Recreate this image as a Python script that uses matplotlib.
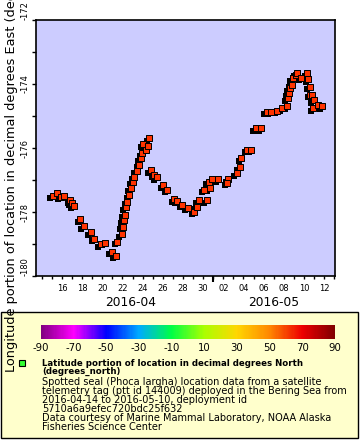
import numpy as np
import pandas as pd
import matplotlib
matplotlib.use("Agg")
import matplotlib.pyplot as plt
import matplotlib.dates as mdates
import matplotlib.transforms as mtransforms
from matplotlib.colors import LinearSegmentedColormap, Normalize
from matplotlib.cm import ScalarMappable
from matplotlib.patches import Rectangle

# day of April 2016 (fractional; 31 = May 1 00:00)
day_apr = [15.08, 15.48, 15.90, 16.17, 16.82, 16.96, 17.16, 17.81, 18.15, 18.87,
           19.20, 19.86, 20.26, 20.95, 21.35, 21.51, 21.91, 22.01, 22.11, 22.21,
           22.34, 22.50, 22.66, 22.83, 23.00, 23.16, 23.43, 23.65, 23.82, 23.99,
           24.09, 24.32, 24.49, 24.68, 24.81, 25.14, 25.38, 26.07, 26.47, 27.12,
           27.46, 27.95, 28.50, 29.10, 29.44, 29.59, 30.36, 30.09, 30.68, 30.58,
           30.92, 31.51, 32.50, 32.41, 33.33, 33.65, 33.79, 34.39, 34.78, 35.21,
           35.77, 36.30, 36.69, 37.36, 37.85, 38.35, 38.41, 38.50, 38.60, 38.77,
           38.90, 39.17, 39.27, 39.73, 40.33, 40.43, 40.58, 40.65, 40.82, 40.98,
           40.92, 41.42, 41.81]
lon = [-177.49, -177.42, -177.52, -177.49, -177.63, -177.71, -177.81, -178.23, -178.44, -178.63,
       -178.83, -179.00, -178.96, -179.24, -179.37, -178.93, -178.69, -178.46, -178.25, -178.09,
       -177.85, -177.68, -177.47, -177.26, -177.05, -176.90, -176.71, -176.53, -176.32, -176.17,
       -175.88, -176.06, -175.94, -175.70, -176.69, -176.84, -176.92, -177.16, -177.31, -177.60,
       -177.65, -177.78, -177.87, -177.99, -177.83, -177.63, -177.63, -177.31, -177.26, -177.05,
       -176.97, -176.98, -176.97, -177.08, -176.79, -176.60, -176.32, -176.06, -176.06, -175.38,
       -175.38, -174.87, -174.87, -174.83, -174.76, -174.69, -174.45, -174.29, -174.13, -174.03,
       -173.82, -173.72, -173.67, -173.80, -173.67, -173.85, -174.08, -174.34, -174.34, -174.50,
       -174.76, -174.66, -174.69]

cbar_ticks = [-90, -70, -50, -30, -10, 10, 30, 50, 70, 90]
cbar_colors = ["#800080", "#ff00ff", "#0000ff", "#00aaff", "#00ff44",
               "#aaff00", "#ffd700", "#ff8800", "#ee0000", "#800000"]

legend_title = ["Latitude portion of location in decimal degrees North",
                "(degrees_north)"]
legend_lines = ["Spotted seal (Phoca largha) location data from a satellite",
                "telemetry tag (ptt id 144009) deployed in the Bering Sea from",
                "2016-04-14 to 2016-05-10, deployment id",
                "5710a6a9efec720bdc25f632",
                "Data courtesy of Marine Mammal Laboratory, NOAA Alaska",
                "Fisheries Science Center"]

times = pd.Timestamp("2016-03-31") + pd.to_timedelta(day_apr, unit="D")

W, H = 360, 440
fig = plt.figure(figsize=(W / 100, H / 100), dpi=100)

def fx(px):
    return px / W

def fy(py):
    return 1 - py / H

ax = fig.add_axes([fx(36), fy(276), fx(299), 256 / H])
ax.set_facecolor("#ccccff")

shadow = mtransforms.offset_copy(ax.transData, fig=fig, x=-2.5, y=-2.5, units="dots")
ax.scatter(times, lon, marker="s", s=19, color="black", linewidths=0, transform=shadow, zorder=2)
ax.scatter(times, lon, marker="s", s=19, color="#ff3300", edgecolors="black",
           linewidths=0.7, zorder=3)

ax.set_ylim(-180, -172)
ax.set_xlim(pd.Timestamp("2016-03-31") + pd.Timedelta(days=13.43),
            pd.Timestamp("2016-03-31") + pd.Timedelta(days=43.08))

ax.set_yticks(np.arange(-180, -171, 2))
ax.set_yticks(np.arange(-179, -172, 2), minor=True)
ax.set_yticklabels([str(v) for v in range(-180, -171, 2)])
ax.tick_params(axis="y", which="both", length=2.9, width=1, labelsize=6, pad=1.5,
               labelrotation=90)
for lab in ax.get_yticklabels():
    lab.set_verticalalignment("center")
ylabs = ax.get_yticklabels()
ylabs[0].set_verticalalignment("bottom")
ylabs[-1].set_verticalalignment("bottom")

ax.xaxis.set_major_locator(mdates.DayLocator(bymonthday=range(2, 32, 2)))
ax.xaxis.set_minor_locator(mdates.DayLocator())
ax.xaxis.set_major_formatter(mdates.DateFormatter("%d"))
ax.tick_params(axis="x", which="both", length=2.2, width=1, labelsize=6, pad=3.9)
fig.canvas.draw()
for lab in ax.get_xticklabels():
    if lab.get_text() == "14":
        lab.set_visible(False)

# longer tick at month boundary
sec = ax.secondary_xaxis("bottom")
sec.set_xticks([pd.Timestamp("2016-05-01")])
sec.set_xticklabels([""])
sec.tick_params(length=4.3, width=1.5)
sec.spines["bottom"].set_visible(False)

for s in ax.spines.values():
    s.set_linewidth(1.2)

ax.set_ylabel("Longitude portion of location in decimal degrees East (degrees_east)",
              fontsize=9.3)
ax.yaxis.set_label_coords((18 - 36) / 299, 0.5)

fig.text(fx(130.5), fy(302), "2016-04", fontsize=8.8, ha="center", va="center")
fig.text(fx(274), fy(302), "2016-05", fontsize=8.8, ha="center", va="center")

# legend box
fig.patches.append(Rectangle((fx(1), fy(437.5)), fx(357), (437.5 - 311.5) / H,
                             transform=fig.transFigure, facecolor="#ffffcc",
                             edgecolor="black", linewidth=1, zorder=-1))

cmap = LinearSegmentedColormap.from_list(
    "rainbow_erddap", [((v + 90) / 180, c) for v, c in zip(cbar_ticks, cbar_colors)])
cax = fig.add_axes([fx(40.7), fy(339.3), fx(294.3), 14.3 / H])
cb = fig.colorbar(ScalarMappable(norm=Normalize(-90, 90), cmap=cmap), cax=cax,
                  orientation="horizontal", ticks=cbar_ticks)
cb.set_ticklabels([str(v) for v in cbar_ticks])
cb.outline.set_visible(False)
cax.tick_params(length=0, labelsize=7.3, pad=3)

fig.lines.append(plt.Line2D([fx(21.7)], [fy(363.3)], marker="s", markersize=4.5,
                            color="#33ff33", markeredgecolor="black",
                            markeredgewidth=0.8, transform=fig.transFigure))

for i, line in enumerate(legend_title):
    fig.text(fx(42.3), fy(363.3 + 8.5 * i), line, fontsize=6.2, fontweight="bold",
             ha="left", va="center")
for i, line in enumerate(legend_lines):
    fig.text(fx(42.3), fy(381.7 + 9 * i), line, fontsize=7.0, ha="left", va="center")

fig.savefig("out.png", dpi=100)
